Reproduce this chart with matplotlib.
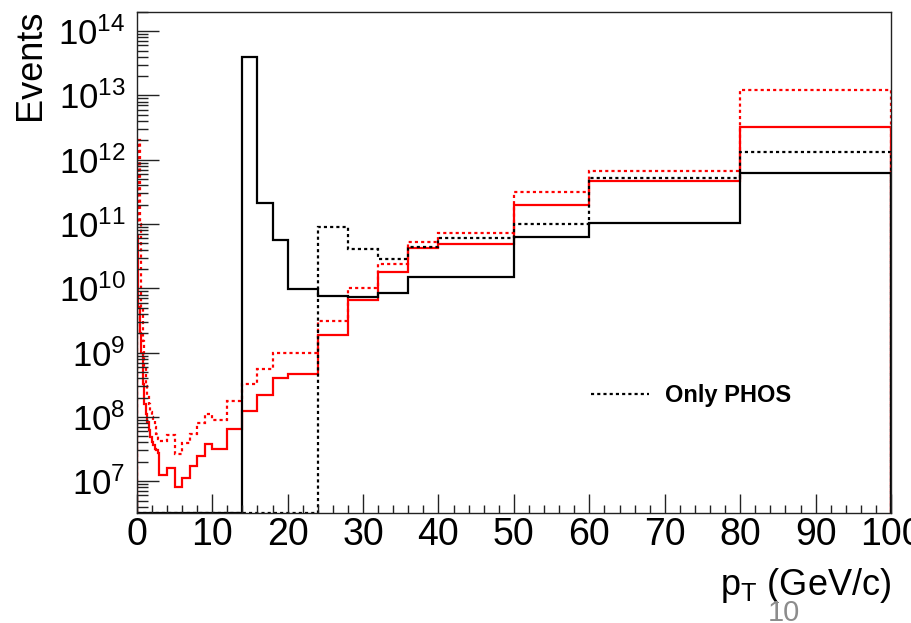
import numpy as np
import matplotlib
matplotlib.use("Agg")
import matplotlib.pyplot as plt
from matplotlib.ticker import FixedLocator, NullFormatter

plt.rcParams['font.family'] = ['Liberation Sans', 'DejaVu Sans']

# bin edges (GeV/c)
edges = [0.0, 0.2, 0.4, 0.6, 0.8, 1.0, 1.2, 1.4, 1.6, 1.8, 2.0, 2.2, 2.4, 2.6, 2.8, 3.0,
         4, 5, 6, 7, 8, 9, 10, 12, 14, 16, 18, 20, 24, 28, 32, 36, 40, 50, 60, 80, 100]

# black solid
black_solid = [0]*15 + [0]*7 + [0, 0,
               4e13, 2.1e11, 5.6e10, 9.6e9, 7.6e9, 7.3e9, 8.6e9, 1.48e10, 1.48e10,
               6.2e10, 1.05e11, 6.3e11]
# black dotted (Only PHOS)
black_dotted = [0]*15 + [0]*7 + [0, 0,
                0, 0, 0, 0, 8.9e10, 4.1e10, 2.9e10, 4.4e10, 6.1e10,
                1.0e11, 5.2e11, 1.3e12]
# red solid
red_solid = [6.8e10, 5.1e9, 2.0e9, 9.8e8, 3.3e8, 1.6e8, 1.1e8, 8.3e7, 6.2e7, 4.9e7,
             4.1e7, 3.6e7, 3.2e7, 3.0e7, 2.7e7,
             1.24e7, 1.58e7, 8.0e6, 1.14e7, 1.73e7, 2.47e7, 3.76e7, 3.15e7, 6.37e7,
             1.23e8, 2.2e8, 4.0e8, 4.6e8, 1.9e9, 6.5e9, 1.8e10, 4.2e10, 4.9e10,
             2.0e11, 4.6e11, 3.2e12]
# red dotted
red_dotted = [1e11, 2e12, 1e11, 5e9, 1.5e9, 6e8, 3e8, 2.2e8, 1.6e8, 1.2e8,
              1.0e8, 8.5e7, 7e7, 5.5e7, 4.5e7,
              4.2e7, 5.2e7, 2.6e7, 3.9e7, 5.5e7, 7.9e7, 1.1e8, 9.1e7, 1.75e8,
              3.2e8, 5.6e8, 9.8e8, 9.8e8, 3.1e9, 1.0e10, 2.4e10, 5.3e10, 7.2e10,
              3.2e11, 6.8e11, 1.2e13]

legend_label = "Only PHOS"
ymin, ymax = 3.2e6, 2.0e14

fig = plt.figure(figsize=(9.12, 6.23), dpi=100)
ax = fig.add_axes([0.150, 0.1766, 0.827, 0.8044])
ax.set_yscale('log')

def draw(vals, color, ls):
    v = np.array(vals, dtype=float)
    v = np.where(v > 0, v, ymin)
    ax.stairs(v, edges, baseline=ymin, color=color, linestyle=ls, linewidth=1.6)

dot = (0, (1.4, 1.4))
draw(red_dotted, 'red', dot)
draw(red_solid, 'red', '-')
draw(black_dotted, 'black', dot)
draw(black_solid, 'black', '-')

ax.set_xlim(0, 100)
ax.set_ylim(ymin, ymax)

ax.xaxis.set_major_locator(FixedLocator(np.arange(0, 101, 10)))
ax.xaxis.set_minor_locator(FixedLocator(np.arange(0, 101, 2)))
ax.set_xticklabels([str(v) for v in range(0, 101, 10)])
majors = [10.0**k for k in range(7, 15)]
ax.yaxis.set_major_locator(FixedLocator(majors))
ax.set_yticklabels([r'$\mathregular{10^{%d}}$' % k for k in range(7, 15)])
minors = [m * 10.0**k for k in range(6, 15) for m in range(2, 10)]
ax.yaxis.set_minor_locator(FixedLocator(minors))
ax.yaxis.set_minor_formatter(NullFormatter())

ax.tick_params(axis='both', which='both', direction='in', top=False, right=False,
               width=1.0, color='#222222')
ax.tick_params(axis='x', labelsize=27)
ax.tick_params(axis='y', labelsize=25)
ax.tick_params(axis='y', which='major', length=16, pad=8)
ax.tick_params(axis='y', which='minor', length=8)
ax.tick_params(axis='x', which='major', length=14, pad=3)
ax.tick_params(axis='x', which='minor', length=6)
for s in ax.spines.values():
    s.set_linewidth(1.0)
    s.set_color('#222222')

ax.set_ylabel('Events', fontsize=26)
ax.yaxis.set_label_coords(-0.118, 1.005)
ax.yaxis.label.set_horizontalalignment('right')
ax.set_xlabel(r'p$_{\mathregular{T}}$ (GeV/c)', fontsize=26)
ax.xaxis.set_label_coords(1.0, -0.105)
ax.xaxis.label.set_horizontalalignment('right')

# legend
ax.plot([], [], color='black', linestyle=dot, linewidth=1.6, label=legend_label)
leg = ax.legend(handles=[ax.lines[-1]], loc='center left', bbox_to_anchor=(0.574, 0.234),
                frameon=False, prop={'weight': 'bold', 'size': 17},
                handlelength=2.45, handletextpad=0.7)

fig.text(0.860, 0.003, '10', fontsize=21, color='#8c8c8c', ha='center', va='baseline')

fig.savefig('out.png', dpi=100)
